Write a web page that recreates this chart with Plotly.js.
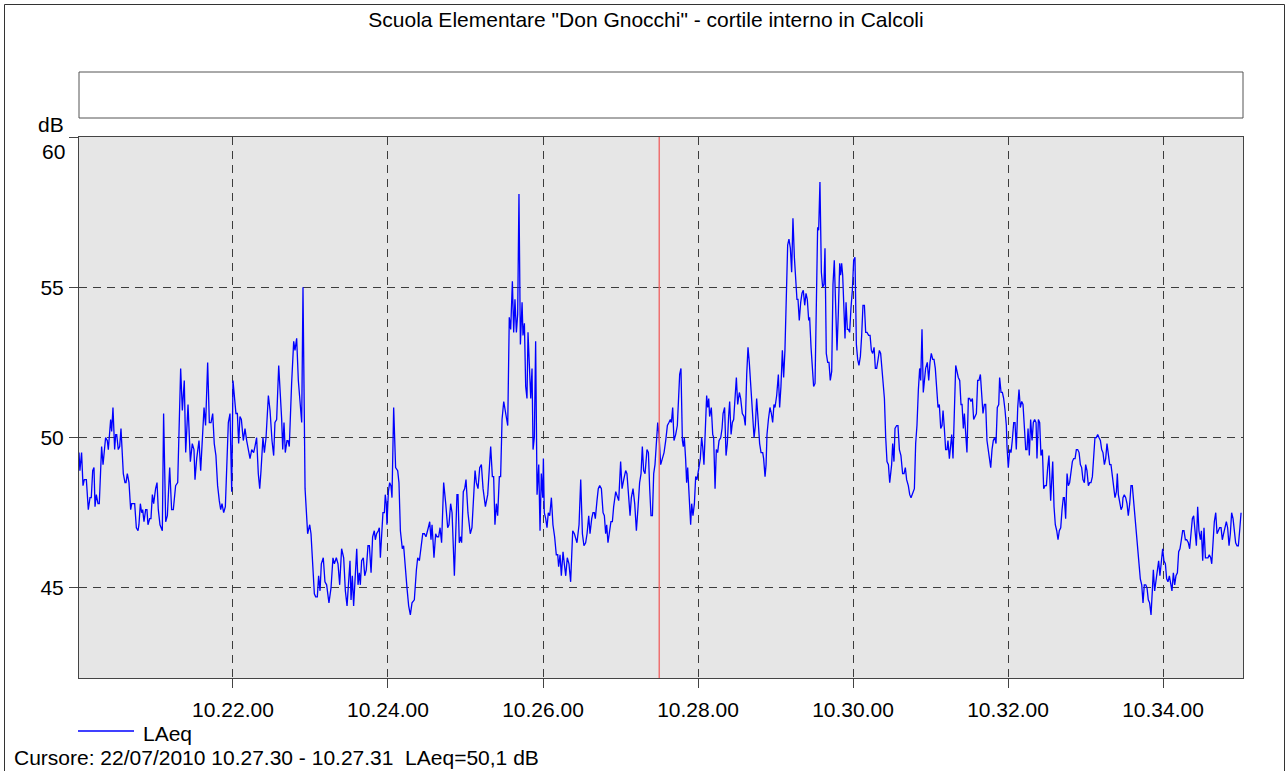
<!DOCTYPE html>
<html>
<head>
<meta charset="utf-8">
<script src="https://cdn.plot.ly/plotly-3.0.1.min.js"></script>
<style>
html,body{margin:0;padding:0;background:#fff;}
#chart{width:1286px;height:771px;}
</style>
</head>
<body>
<div id="chart"></div>
<script>
// Measurement start (22/07/2010 10.20.00), seconds are offsets from it
const START_UTC = Date.UTC(2010, 6, 22, 10, 20, 0);

const chartTitle = 'Scuola Elementare "Don Gnocchi" - cortile interno in Calcoli';
const seriesName = 'LAeq';
const yUnit = 'dB';
const cursorText = 'Cursore: 22/07/2010 10.27.30 - 10.27.31\u00a0 LAeq=50,1 dB';
const cursorSecond = 450;
const xRangeSeconds = [0.8, 901.9];
const yRange = [42, 60];
const yTickValues = [45, 50, 55, 60];
const yTickLabels = ['45', '50', '55', ''];

const secondsFromStart = [
0.8,1.5,2.8,3.9,4.9,6.5,8.0,9.3,10.3,11.4,12.4,13.2,14.2,15.5,16.5,18.3,19.4,21.4,22.7,23.5,25.3,26.1,27.1,28.4,29.2,30.0,31.2,32.3,33.3,35.1,36.4,37.2,38.2,39.5,40.8,41.6,42.6,43.9,45.2,46.5,47.2,48.3,49.3,50.1,51.1,52.4,53.4,54.2,55.5,56.5,57.6,58.6,60.1,61.2,62.2,63.5,65.3,66.3,67.9,69.2,71.0,72.5,73.8,75.6,77.2,78.2,79.5,80.8,82.3,83.4,85.2,87.0,88.5,89.8,
90.6,91.9,93.7,95.0,96.3,97.6,98.8,100.4,101.7,103.0,104.3,105.5,106.8,108.1,109.4,110.5,111.5,112.8,114.1,115.4,116.4,117.7,119.0,120.0,121.0,122.3,123.4,124.4,125.4,126.5,128.0,129.3,130.6,131.9,133.2,134.5,136.0,137.0,138.3,139.6,140.7,141.7,143.2,144.3,145.6,147.4,148.7,150.2,151.5,152.5,153.8,155.4,156.7,157.7,158.5,159.5,160.5,161.8,162.6,163.6,165.4,167.0,168.0,169.3,170.6,173.2,174.2,175.8,177.8,179.4,
180.4,181.7,183.0,184.0,185.3,186.3,187.4,188.4,189.9,191.2,192.5,194.3,195.9,197.4,198.5,200.0,201.3,202.6,204.1,205.7,207.0,208.3,209.6,210.6,211.4,212.4,213.4,214.7,215.8,216.8,217.8,218.6,219.6,220.9,222.0,223.2,224.5,225.6,226.9,228.1,229.4,230.2,231.2,232.5,233.3,234.1,235.1,236.1,237.2,237.9,238.7,239.2,240.3,241.3,242.3,243.1,244.4,245.9,247.5,248.5,249.6,251.1,252.1,253.4,254.7,256.0,257.3,258.6,260.4,262.0,263.0,264.3,265.6,266.9,268.2,269.4,
271.2,272.3,273.3,274.1,274.8,275.6,276.9,277.9,279.2,280.3,281.5,283.1,284.7,286.2,287.2,288.5,289.6,291.4,293.4,294.2,295.2,296.3,297.0,298.3,299.4,300.4,301.9,303.7,305.0,307.4,308.4,309.7,311.0,312.3,313.6,315.4,317.2,318.5,319.5,320.8,321.8,322.8,323.9,324.9,326.2,327.2,328.3,329.6,330.6,331.6,332.7,333.9,335.0,336.3,337.3,338.3,339.4,340.4,341.4,342.5,343.8,344.5,345.6,346.6,347.6,348.4,349.4,350.5,351.5,352.3,353.3,354.3,355.4,356.7,357.7,358.7,359.8,
360.3,361.0,362.1,363.1,364.1,365.2,366.5,367.7,369.0,370.3,371.4,372.1,373.2,374.2,375.5,376.5,377.6,378.8,380.1,381.4,383.0,384.3,385.3,386.3,387.9,389.2,390.5,391.7,393.0,394.1,395.4,396.4,397.7,398.7,399.7,400.5,401.8,402.8,403.9,405.2,406.5,407.5,408.5,409.3,410.3,411.4,412.6,413.7,414.7,416.3,417.6,418.6,420.1,421.2,422.5,424.0,425.0,426.1,427.4,428.4,429.7,431.0,432.3,433.6,434.8,435.9,436.9,437.9,439.0,440.5,441.6,442.6,443.6,444.7,445.7,446.7,447.8,448.8,449.8,
451.1,452.4,453.7,455.0,456.3,457.5,458.6,459.4,460.4,461.4,462.7,464.0,464.8,465.8,466.8,467.9,468.6,469.4,470.4,471.2,472.0,473.0,474.3,475.1,476.1,477.2,478.2,479.2,480.5,481.8,482.8,483.6,484.6,485.7,486.7,487.5,488.3,489.0,490.3,491.4,492.1,493.2,494.2,495.2,496.3,497.6,498.6,499.4,500.6,501.7,502.7,503.7,504.5,505.6,506.6,507.6,508.6,509.7,510.7,512.0,513.0,514.3,515.6,516.6,517.7,518.7,519.7,520.8,522.1,523.4,524.4,525.4,526.5,527.7,528.8,530.1,530.8,531.9,532.7,533.4,534.5,535.7,536.8,537.8,538.8,
539.6,540.9,542.2,543.2,544.2,545.3,546.3,547.3,548.4,549.4,550.4,551.5,552.5,553.5,554.6,555.6,556.6,557.4,558.4,559.5,560.5,561.5,562.6,563.6,564.6,565.7,566.4,567.5,568.5,569.5,570.6,571.6,572.6,573.4,574.4,575.5,576.5,577.5,578.3,579.3,580.4,581.4,582.4,583.5,584.5,585.5,586.6,587.6,588.6,589.7,590.4,591.2,592.0,593.0,593.8,594.6,595.6,596.4,597.4,598.4,599.5,600.5,601.5,602.6,603.6,604.6,605.7,606.7,607.7,608.8,609.8,610.8,612.1,613.2,614.2,615.2,616.3,617.3,618.3,619.4,620.4,621.4,622.5,623.5,624.3,625.3,626.3,627.4,628.4,
629.9,630.7,631.7,632.5,633.8,634.8,635.9,637.1,638.4,639.5,640.5,641.5,642.8,643.9,644.9,645.9,647.5,648.5,649.5,650.6,651.6,652.4,653.4,654.4,655.2,656.2,657.5,658.6,659.6,660.6,661.7,662.7,663.7,664.8,665.8,666.8,667.9,668.9,669.7,670.7,671.7,672.8,673.5,674.6,675.6,676.4,677.4,678.4,679.5,680.5,681.5,682.6,683.6,684.4,685.4,686.2,687.2,688.2,689.3,690.3,691.3,692.4,693.4,694.4,695.5,696.5,697.5,698.6,699.6,700.6,701.7,702.7,703.7,704.8,705.5,706.6,707.6,708.6,709.7,710.7,711.7,712.8,713.5,714.6,715.6,716.6,717.7,718.7,
719.2,720.2,721.3,722.3,723.3,724.4,725.4,726.4,727.5,728.5,729.5,730.6,731.6,732.6,733.7,734.7,735.5,736.5,737.5,738.6,739.6,740.6,741.7,742.4,743.5,744.5,745.5,746.6,747.6,748.6,749.7,750.7,751.7,753.0,754.6,755.6,756.6,757.7,758.7,759.7,760.8,761.8,762.8,763.6,764.6,765.7,766.7,767.7,768.8,769.8,770.8,771.9,772.9,773.9,775.0,776.0,777.0,778.0,779.1,780.1,781.1,782.2,783.2,784.2,785.3,786.3,787.3,788.4,789.4,790.4,791.5,792.5,793.5,794.6,795.6,796.6,797.7,798.7,799.7,800.8,801.8,802.8,803.9,804.6,805.4,806.4,807.5,808.5,
809.0,810.0,811.1,812.1,813.1,814.2,815.2,816.2,817.3,818.3,819.3,820.4,821.4,822.4,823.5,824.5,825.5,826.6,827.6,828.6,829.6,830.7,831.7,832.5,833.5,834.6,835.6,836.6,837.6,838.7,839.7,840.7,841.8,842.8,843.8,844.9,845.9,846.9,848.0,849.0,850.0,851.1,852.1,853.1,854.2,855.2,856.2,857.3,858.3,859.6,860.6,861.6,862.7,863.7,864.7,865.8,866.8,867.8,868.9,869.7,870.7,871.7,872.8,873.8,874.8,875.8,876.9,877.7,878.7,879.7,880.8,881.8,882.8,883.8,884.9,885.9,886.9,888.0,889.0,890.0,891.1,892.1,893.1,894.2,895.2,896.2,897.3,898.3,899.3,900.4
];

const laeqDb = [
49.5,48.9,49.5,48.4,48.6,48.6,47.6,48.0,48.0,48.9,49.0,47.7,48.1,47.8,47.8,49.7,49.1,50.0,49.9,49.6,50.6,50.2,51.0,49.6,50.1,50.1,49.6,49.7,50.3,48.8,48.5,48.5,48.8,48.5,47.6,47.8,47.8,47.8,47.0,46.9,47.1,47.8,47.5,47.6,47.2,47.6,47.6,47.1,47.3,47.3,48.1,47.8,48.3,48.5,47.6,47.1,46.9,50.8,47.2,47.4,49.0,47.6,47.6,48.4,48.5,50.5,52.3,50.9,51.9,49.5,51.1,49.2,49.8,49.6,
48.6,49.3,49.9,48.9,50.0,51.0,50.4,52.5,50.5,50.5,50.8,49.8,49.4,48.4,47.9,47.6,47.8,47.5,47.7,49.1,50.5,50.8,48.2,51.9,51.5,50.8,50.8,49.8,50.7,50.6,49.9,50.3,49.9,49.6,49.3,49.6,49.5,49.7,50.0,48.8,48.3,48.9,50.0,49.5,50.0,51.4,50.9,49.9,49.4,50.5,50.6,52.4,51.5,50.6,49.6,50.5,49.5,49.9,49.9,49.7,51.8,53.2,52.9,53.3,51.9,50.5,55.0,48.3,46.8,47.1,
46.8,45.9,44.8,44.7,44.7,45.4,44.9,45.8,46.0,45.2,45.1,44.5,45.0,46.0,45.8,46.0,45.8,45.1,46.3,46.0,44.9,44.4,45.4,45.9,44.6,45.4,44.4,45.6,46.3,45.1,45.5,45.1,45.9,46.0,45.4,45.6,46.4,46.4,45.5,46.7,46.9,46.6,46.8,46.9,47.0,46.0,46.9,47.5,47.5,48.1,47.8,47.1,48.2,48.5,48.4,48.0,51.0,49.0,48.9,48.5,46.9,46.3,46.4,45.6,45.0,44.4,44.1,44.5,44.6,45.6,46.0,45.9,46.4,46.8,46.8,46.7,
47.0,47.2,46.6,47.1,46.6,46.0,46.8,46.7,46.7,47.0,46.5,48.5,47.8,47.0,47.1,47.8,47.5,45.4,48.1,48.1,46.5,46.7,46.5,48.2,48.3,48.6,47.5,46.8,47.0,48.9,48.5,48.3,49.0,49.1,48.3,47.7,48.1,49.1,49.7,48.7,48.7,47.1,47.8,47.4,48.7,48.7,50.6,51.2,50.9,50.6,50.4,54.0,53.6,55.2,53.5,54.6,53.5,54.1,58.1,53.1,54.5,53.4,53.8,51.7,51.3,53.5,52.3,51.3,52.3,49.6,50.0,53.2,48.1,49.1,46.9,48.8,48.0,
49.3,47.5,47.3,47.0,47.5,47.4,48.0,47.1,46.7,46.1,46.1,45.7,46.1,45.4,46.2,45.8,45.4,46.0,45.8,45.2,46.9,46.8,46.6,46.5,47.1,48.6,46.8,46.4,46.5,46.8,47.4,46.8,47.3,47.5,47.5,47.3,47.9,48.3,48.4,48.3,47.5,47.4,46.8,47.1,46.5,46.9,47.2,47.2,47.7,48.2,48.0,47.9,49.2,48.3,48.6,48.9,48.8,48.1,47.4,48.0,48.3,47.8,46.9,47.7,48.5,48.8,49.7,48.9,48.8,49.6,49.5,48.3,47.4,47.4,48.8,49.1,49.7,50.5,50.1,
49.1,49.3,49.5,49.9,50.4,50.5,50.6,50.5,51.0,49.9,50.1,50.4,51.1,52.1,52.3,49.9,49.7,50.0,49.3,48.5,49.0,48.0,47.1,47.8,47.4,47.8,48.7,48.6,49.0,49.3,50.0,49.7,49.1,50.5,51.4,51.0,51.3,50.7,51.0,50.1,50.0,48.3,49.6,49.5,49.9,50.0,50.3,50.8,51.0,49.4,49.8,50.7,51.2,50.1,50.5,50.6,51.5,52.0,51.1,51.5,51.3,50.8,50.7,50.4,52.1,53.0,52.5,51.7,50.6,50.0,50.4,51.3,50.6,49.8,49.5,49.5,49.3,48.7,49.1,50.1,50.6,51.0,50.8,50.5,51.1,
51.0,51.4,52.1,51.0,51.7,52.9,52.0,52.9,55.4,56.4,56.6,56.3,55.5,57.3,56.0,55.3,54.6,54.6,53.9,54.5,54.8,54.9,54.4,54.8,54.6,53.9,54.0,53.0,52.3,51.7,51.8,55.0,57.0,56.9,58.5,55.5,55.0,55.1,56.3,52.8,52.5,52.5,51.9,52.2,55.1,55.9,54.0,52.9,54.1,55.8,55.4,55.8,55.4,54.1,53.3,54.5,53.6,53.6,53.5,54.3,54.9,55.9,56.0,53.1,52.6,52.4,52.7,53.4,54.4,54.4,53.5,53.5,53.4,53.4,52.9,52.8,53.0,52.3,52.3,52.6,52.9,52.8,52.1,51.5,51.3,50.0,49.2,49.1,48.5,
49.1,49.8,49.2,50.3,50.4,50.4,49.6,49.4,48.8,48.8,49.0,48.6,48.4,48.1,48.0,48.1,48.3,49.8,50.4,51.6,52.3,51.9,53.6,51.5,52.0,52.3,52.5,51.9,52.5,52.8,52.6,52.6,52.3,51.6,51.0,51.1,50.3,50.4,50.9,50.3,49.6,49.6,49.9,49.3,49.9,50.1,49.3,51.1,52.4,52.2,52.0,51.9,51.1,51.1,50.3,50.8,49.9,49.5,51.3,51.3,51.2,51.3,50.6,50.7,50.8,51.9,51.9,52.1,51.5,50.8,51.1,51.1,49.9,49.6,49.3,49.0,49.6,49.9,50.0,49.8,51.0,51.1,52.0,51.5,51.5,51.3,50.9,50.4,
49.7,49.0,49.6,49.5,49.9,50.5,50.5,49.6,51.0,51.6,51.0,51.2,51.1,50.5,49.6,49.6,50.3,49.4,50.6,49.9,50.5,50.6,50.5,49.3,50.6,50.5,49.4,49.6,48.3,48.4,48.4,49.0,49.4,47.9,49.2,47.7,47.1,46.9,46.6,46.9,47.0,47.6,48.0,48.0,47.3,48.8,48.4,48.5,48.8,49.2,49.3,49.3,49.6,49.6,49.5,49.1,49.0,48.6,48.5,49.1,48.9,48.4,48.5,48.5,48.7,49.6,50.0,50.0,50.1,50.0,49.9,49.6,49.5,49.1,49.3,49.8,49.3,49.1,49.1,48.7,48.4,48.0,48.2,48.8,48.1,47.8,47.6,47.7,
48.0,48.1,48.0,47.8,47.4,47.8,48.4,48.4,47.8,47.4,46.8,46.3,45.8,45.3,45.1,44.5,45.1,45.1,45.0,44.6,44.5,44.1,44.9,45.6,44.9,45.3,45.6,45.9,45.4,45.8,46.3,45.9,45.8,45.3,45.2,45.4,45.1,44.9,45.5,45.1,45.4,45.5,46.2,46.3,46.6,46.9,46.9,46.6,46.6,46.5,46.3,46.8,47.3,47.4,47.0,46.4,47.7,46.9,46.6,46.9,45.9,47.0,46.0,46.0,46.0,46.1,46.0,45.8,46.6,47.2,47.5,46.8,46.9,47.0,47.0,46.6,46.8,47.0,47.2,47.0,46.4,46.8,47.5,47.3,46.9,46.5,46.4,46.4,46.9,47.5
];

function toStamp(s) {
  const d = new Date(START_UTC + Math.round(s * 1000));
  return d.toISOString().replace('T', ' ').replace('Z', '');
}

const times = secondsFromStart.map(toStamp);

// plot area in pixels: left 79, right 1243, top 137, bottom 678
const W = 1286, H = 771, L = 79, R = 43, T = 137, B = 93;
const PW = W - L - R, PH = H - T - B;
const px = x => (x - L) / PW;
const py = y => (H - B - y) / PH;

const FONT = 'Liberation Sans, Arial, Helvetica, sans-serif';
const FS = 21;
const gridStyle = {
  showgrid: true, gridcolor: '#3c3c3c', gridwidth: 1, griddash: '8px,6px',
  showline: true, mirror: true, linecolor: '#444', linewidth: 1,
  ticks: 'outside', ticklen: 9, tickcolor: '#444', tickwidth: 1,
  zeroline: false, tickfont: {family: FONT, size: FS, color: '#000'}
};

const trace = {
  x: times, y: laeqDb, type: 'scatter', mode: 'lines', name: seriesName,
  line: {color: '#0000ff', width: 1.3}, hoverinfo: 'skip', showlegend: false
};

const layout = {
  width: W, height: H,
  margin: {l: L, r: R, t: T, b: B, pad: 0},
  paper_bgcolor: '#ffffff', plot_bgcolor: '#e6e6e6',
  font: {family: FONT, size: FS, color: '#000'},
  showlegend: false,
  title: {text: chartTitle, xref: 'container', yref: 'container',
          x: 646 / W, xanchor: 'center', y: 1 - 20 / H, yanchor: 'middle',
          font: {family: FONT, size: FS, color: '#000'}},
  xaxis: Object.assign({}, gridStyle, {
    type: 'date', range: xRangeSeconds.map(toStamp),
    tick0: toStamp(120), dtick: 120000, tickformat: '%H.%M.%S',
    ticklabelstandoff: 4
  }),
  yaxis: Object.assign({}, gridStyle, {
    range: yRange, tickmode: 'array', tickvals: yTickValues, ticktext: yTickLabels,
    ticklabelstandoff: 1
  }),
  shapes: [
    // empty header box
    {type: 'rect', xref: 'paper', yref: 'paper', x0: 0, x1: 1, y0: py(118), y1: py(72),
     line: {color: '#555', width: 1}, fillcolor: '#ffffff', layer: 'below'},
    // outer frame
    {type: 'rect', xref: 'paper', yref: 'paper', x0: px(4.5), x1: px(1284.5), y0: py(790), y1: py(4.5),
     line: {color: '#333', width: 1}, fillcolor: 'rgba(0,0,0,0)', layer: 'above'},
    // cursor
    {type: 'line', xref: 'x', yref: 'paper', x0: toStamp(cursorSecond), x1: toStamp(cursorSecond), y0: 0, y1: 1,
     line: {color: 'rgba(240,100,100,0.9)', width: 1.5}, layer: 'above'},
    // legend sample line
    {type: 'line', xref: 'paper', yref: 'paper', x0: px(78), x1: px(134), y0: py(731), y1: py(731),
     line: {color: '#0000ff', width: 1.3}}
  ],
  annotations: [
    {text: yUnit, xref: 'paper', yref: 'paper', x: px(65), y: py(125), xanchor: 'right', yanchor: 'middle',
     showarrow: false, borderpad: 0, font: {family: FONT, size: FS, color: '#000'}},
    {text: '60', xref: 'paper', yref: 'paper', x: px(66), y: py(151), xanchor: 'right', yanchor: 'middle',
     showarrow: false, borderpad: 0, font: {family: FONT, size: FS, color: '#000'}},
    {text: seriesName, xref: 'paper', yref: 'paper', x: px(141), y: py(733), xanchor: 'left', yanchor: 'middle',
     showarrow: false, font: {family: FONT, size: FS, color: '#000'}},
    {text: cursorText, xref: 'paper', yref: 'paper', x: px(12), y: py(757), xanchor: 'left', yanchor: 'middle',
     showarrow: false, font: {family: FONT, size: FS, color: '#000'}}
  ]
};

Plotly.newPlot('chart', [trace], layout, {displayModeBar: false, staticPlot: true});
</script>
</body>
</html>
